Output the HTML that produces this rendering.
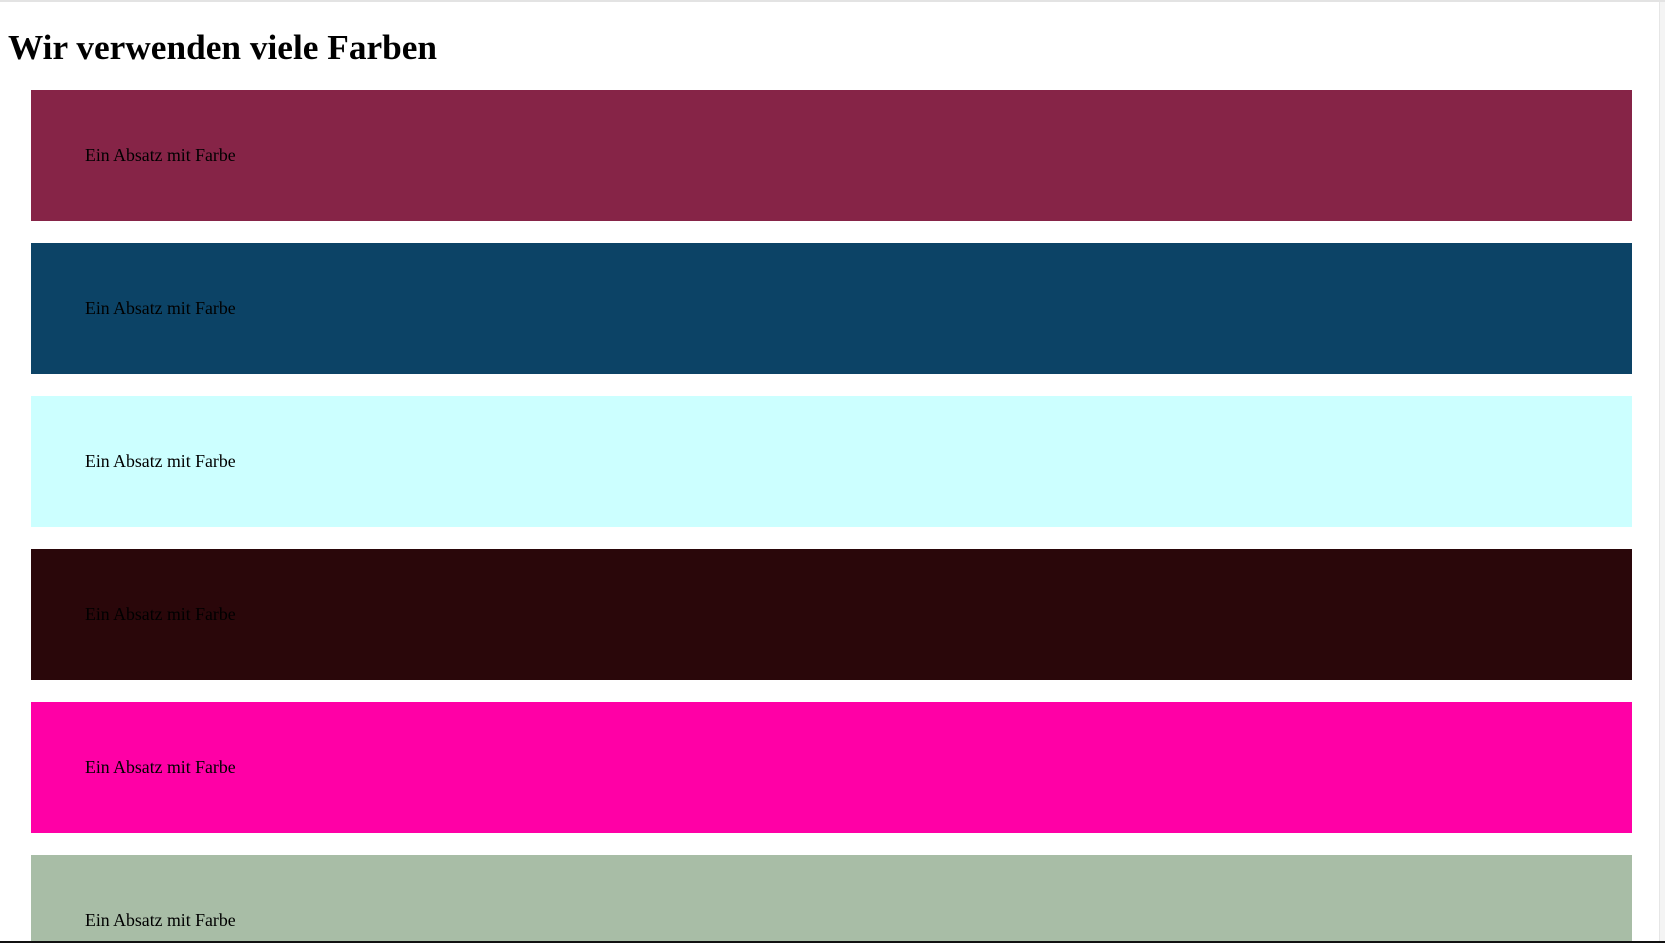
<!DOCTYPE html>
<html><head><meta charset="utf-8"><style>
html,body{margin:0;padding:0;width:1665px;height:943px;overflow:hidden;background:#fff;position:relative;font-family:"Liberation Serif",serif}
.top{position:absolute;left:0;top:0;width:1665px;height:2px;background:#e3e3e3}
.sb{position:absolute;left:1659px;top:2px;width:6px;height:939px;background:#f4f4f4;border-left:1px solid #e6e6e6}
.bot{position:absolute;left:0;top:941px;width:1665px;height:2px;background:#111}
h1{position:absolute;left:8px;top:24px;margin:0;font-size:35.3px;font-weight:bold;line-height:48px;white-space:nowrap}
.blk{position:absolute;left:31px;width:1601px;height:131px}
.blk span{position:absolute;left:54px;top:55px;font-size:17.8px;line-height:20px;color:#000;white-space:nowrap}
</style></head><body>
<div class="top"></div>
<h1>Wir verwenden viele Farben</h1>
<div class="blk" style="top:90px;background:#862447"><span>Ein Absatz mit Farbe</span></div>
<div class="blk" style="top:243px;background:#0c4366"><span>Ein Absatz mit Farbe</span></div>
<div class="blk" style="top:396px;background:#ccffff"><span>Ein Absatz mit Farbe</span></div>
<div class="blk" style="top:549px;background:#2a070a"><span>Ein Absatz mit Farbe</span></div>
<div class="blk" style="top:702px;background:#ff00a6"><span>Ein Absatz mit Farbe</span></div>
<div class="blk" style="top:855px;height:86px;background:#a8bda6"><span>Ein Absatz mit Farbe</span></div>
<div class="sb"></div>
<div class="bot"></div>
</body></html>
